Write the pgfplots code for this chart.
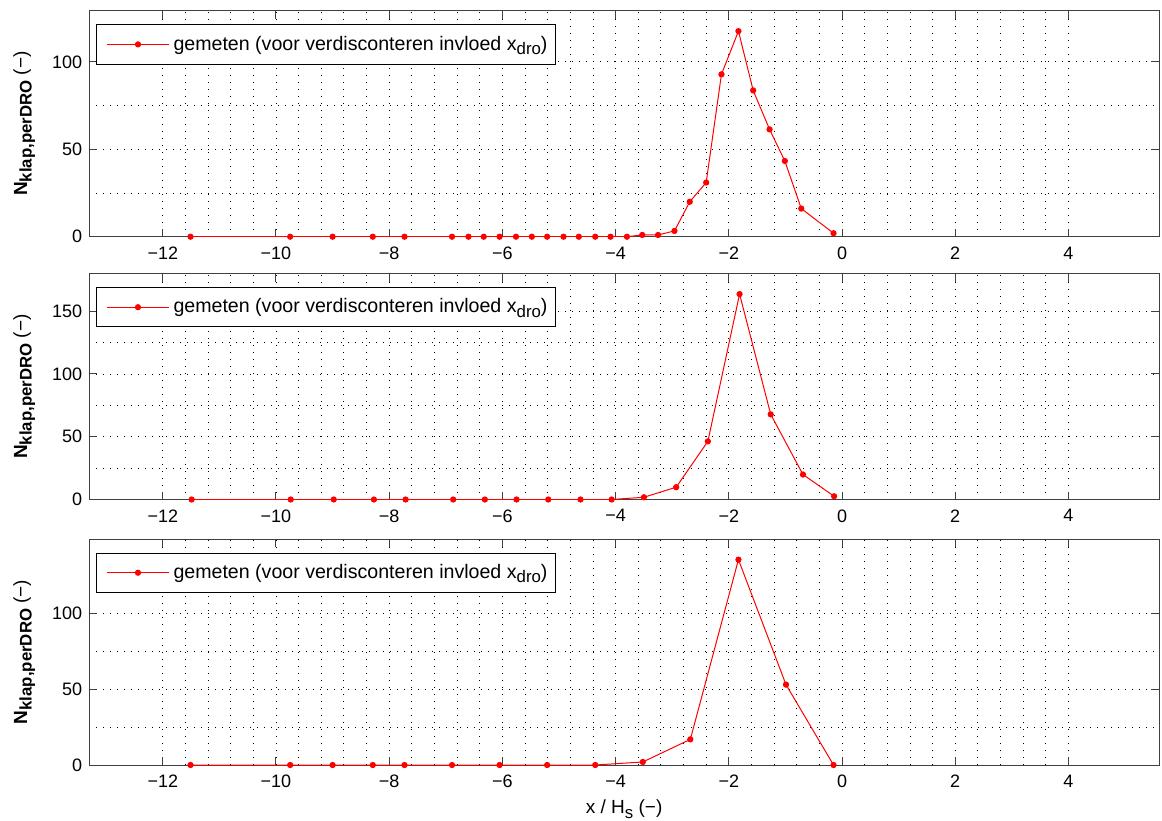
\documentclass[border=0pt]{standalone}
\usepackage{fontspec}
\setmainfont{Liberation Sans}
\usepackage{pgfplots}
\pgfplotsset{compat=1.18}
\newcommand{\sub}[1]{\raisebox{-0.45ex}{\fontsize{8.4pt}{9pt}\selectfont #1}}
\pgfplotsset{
  myax/.style={
    scale only axis, width=534.9pt, height=113pt,
    font=\fontsize{9pt}{11pt}\selectfont,
    xmin=-13.3, xmax=5.6, ymin=0,
    xtick={-12,-10,...,4},
    xticklabels={−12,−10,−8,−6,−4,−2,0,2,4},
    minor x tick num=4,
    minor y tick num=1,
    grid=both,
    major grid style={black, line width=0.45pt, dash pattern=on 0.5pt off 3pt},
    minor grid style={black, line width=0.45pt, dash pattern=on 0.5pt off 3pt},
    tick align=inside, tick pos=both,
    major tick length=4pt, minor tick length=0pt,
    axis line style={black!75, line width=0.5pt},
    tick style={black!75, line width=0.5pt},
    /pgf/number format/assume math mode=true,
    xticklabel style={yshift=-1.5pt},
    ylabel={\textbf{N\sub{klap,perDRO}} (−)},
    ylabel style={at={(axis description cs:-0.0608,0.5)}, anchor=center, font=\fontsize{9.5pt}{11pt}\selectfont},
    legend style={at={(0,1)}, anchor=north west, xshift=3.4pt, yshift=-6.8pt,
      draw=black, line width=0.5pt, inner xsep=2pt, inner ysep=3.5pt,
      font=\fontsize{9.8pt}{12pt}\selectfont},
    legend cell align=left,
    legend image code/.code={\path (0pt,0pt); \draw[mark repeat=2,mark phase=2,##1] plot coordinates {(3pt,0pt)(18.5pt,0pt)(34pt,0pt)};},
  },
  myline/.style={red, line width=0.5pt, mark=*, mark size=1.3pt, mark options={fill=red, draw=red}},
}
\begin{document}
\begin{tikzpicture}
\begin{axis}[myax, at={(44.6pt,-5.35pt)}, anchor=north west, ymax=129.3, ytick={0,50,100}]
\addplot[myline] coordinates {
(-11.51,0) (-9.75,0) (-9.00,0) (-8.29,0) (-7.73,0) (-6.89,0) (-6.60,0) (-6.33,0)
(-6.05,0) (-5.76,0) (-5.48,0) (-5.21,0) (-4.92,0) (-4.65,0) (-4.36,0) (-4.09,0)
(-3.80,0) (-3.53,1) (-3.25,1) (-2.96,3.3) (-2.69,20) (-2.40,31) (-2.13,92.9)
(-1.83,117.6) (-1.57,83.7) (-1.28,61.4) (-1.01,43.3) (-0.72,16.1) (-0.15,2)
};
\addlegendentry{gemeten (voor verdisconteren invloed x\sub{dro})}
\end{axis}
\begin{axis}[myax, at={(44.6pt,-136.75pt)}, anchor=north west, ymax=180, ytick={0,50,100,150}]
\addplot[myline] coordinates {
(-11.49,0) (-9.74,0) (-8.98,0) (-8.27,0) (-7.71,0) (-6.87,0) (-6.31,0) (-5.75,0)
(-5.19,0) (-4.62,0) (-4.07,0) (-3.50,1.8) (-2.93,9.8) (-2.37,46.3) (-1.81,163.6)
(-1.26,67.8) (-0.69,19.9) (-0.14,2.6)
};
\addlegendentry{gemeten (voor verdisconteren invloed x\sub{dro})}
\end{axis}
\begin{axis}[myax, at={(44.6pt,-269.5pt)}, anchor=north west, ymax=149, ytick={0,50,100},
  xlabel={x / H\sub{s} (−)},
  xlabel style={at={(axis description cs:0.5,-0.124)}, anchor=north, font=\fontsize{9.5pt}{11pt}\selectfont}]
\addplot[myline] coordinates {
(-11.51,0) (-9.75,0) (-9.00,0) (-8.29,0) (-7.73,0) (-6.89,0) (-6.05,0) (-5.21,0)
(-4.36,0) (-3.52,2.0) (-2.68,16.9) (-1.83,135.4) (-0.99,53) (-0.15,0)
};
\addlegendentry{gemeten (voor verdisconteren invloed x\sub{dro})}
\end{axis}
\pgfresetboundingbox
\path[use as bounding box] (0pt,0pt) rectangle (581pt,-410pt);
\end{tikzpicture}
\end{document}
